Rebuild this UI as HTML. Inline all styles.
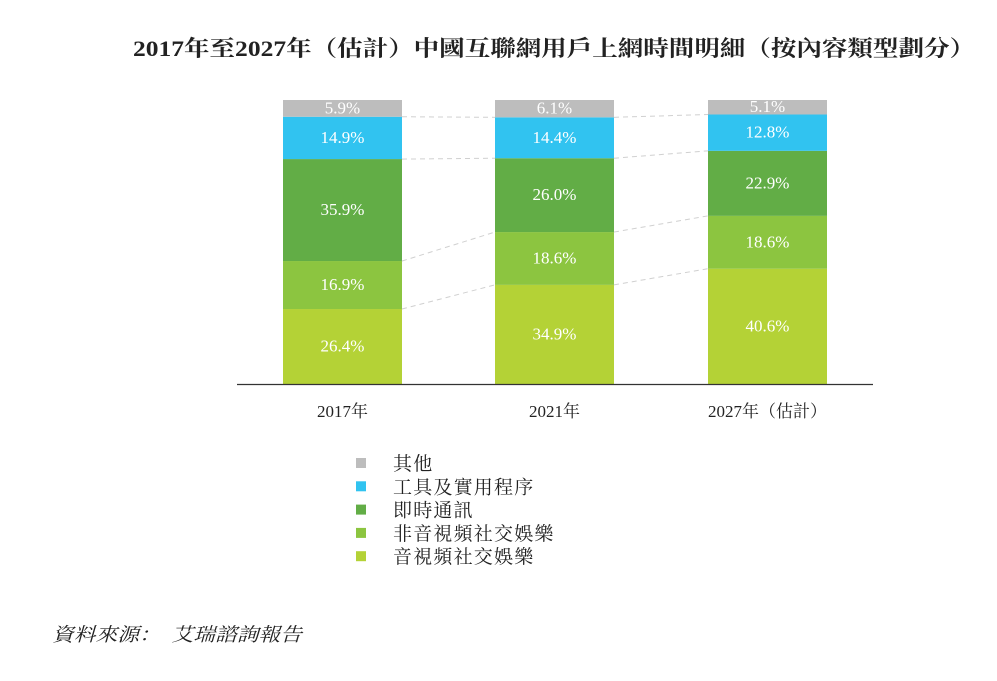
<!DOCTYPE html>
<html><head><meta charset="utf-8"><style>
body{margin:0;background:#fff;width:997px;height:676px;overflow:hidden;font-family:"Liberation Serif","Noto Serif CJK SC",serif;}
</style></head><body>
<svg width="997" height="676" xmlns="http://www.w3.org/2000/svg">
<text x="133" y="56" textLength="842" lengthAdjust="spacingAndGlyphs" font-size="22" font-weight="bold" fill="#222" font-family="Liberation Serif, Noto Serif CJK SC, serif">2017年至2027年（估計）中國互聯網用戶上網時間明細（按內容類型劃分）</text>
<g id="plot"></g>
<line x1="237" y1="384.5" x2="873" y2="384.5" stroke="#333" stroke-width="1.2"/>
<g id="legend"></g>
<text x="52" y="641" textLength="250" lengthAdjust="spacingAndGlyphs" font-size="19" font-style="italic" fill="#222" font-family="Liberation Serif, Noto Serif CJK SC, serif">資料來源：　艾瑞諮詢報告</text>
</svg>
<script>
const categories=["2017年","2021年","2027年（估計）"];
const seriesNames=["音視頻社交娛樂","非音視頻社交娛樂","即時通訊","工具及實用程序","其他"];
const audioVideo=[26.4,34.9,40.6];
const nonAudioVideo=[16.9,18.6,18.6];
const instantMsg=[35.9,26.0,22.9];
const tools=[14.9,14.4,12.8];
const others=[5.9,6.1,5.1];
const colors=["#b4d236","#8cc540","#62ad46","#31c3f0","#bdbdbd"];
const series=[audioVideo,nonAudioVideo,instantMsg,tools,others];
const NS="http://www.w3.org/2000/svg";
const base=384,top0=100,barW=119;
const barX=[283,495,708];
function y(v){return base-(base-top0)*v/100;}
const plot=document.getElementById('plot');
function mk(t,a,p){const e=document.createElementNS(NS,t);for(const k in a)e.setAttribute(k,a[k]);(p||plot).appendChild(e);return e;}
const bounds=[];
categories.forEach((c,i)=>{
  let cum=0;bounds[i]=[];
  series.forEach((s,j)=>{
    const y0=y(cum),y1=y(cum+s[i]);
    const r=mk('rect',{x:barX[i],y:y1,width:barW,height:y0-y1,fill:colors[j]});
    
    
    const t=mk('text',{x:barX[i]+barW/2,y:(y0+y1)/2+5,'text-anchor':'middle','font-size':17,fill:'#fff'});
    t.textContent=s[i].toFixed(1)+'%';
    
    
    cum+=s[i];
    if(j<series.length-1)bounds[i].push(y(cum));
  });
  const l=mk('text',{x:barX[i]+barW/2,y:417,'text-anchor':'middle','font-size':17,fill:'#222'});
  l.textContent=c;
  
  
});
for(let i=0;i<categories.length-1;i++){
  bounds[i].forEach((b,k)=>{
    const d=mk('line',{x1:barX[i]+barW,y1:b,x2:barX[i+1],y2:bounds[i+1][k],stroke:'#d0d0d0','stroke-width':1,'stroke-dasharray':'5,4'});
    
    
  });
}
const lg=document.getElementById('legend');
for(let k=0;k<5;k++){
  const j=4-k,yy=463+k*23.3;
  const s=mk('rect',{x:356,y:yy-5,width:10,height:10,fill:colors[j]},lg);
  
  
  const t=mk('text',{x:393,y:yy+7,'font-size':19,'letter-spacing':1.2,fill:'#222'},lg);
  t.textContent=seriesNames[j];
  
  
}
</script>
</body></html>
